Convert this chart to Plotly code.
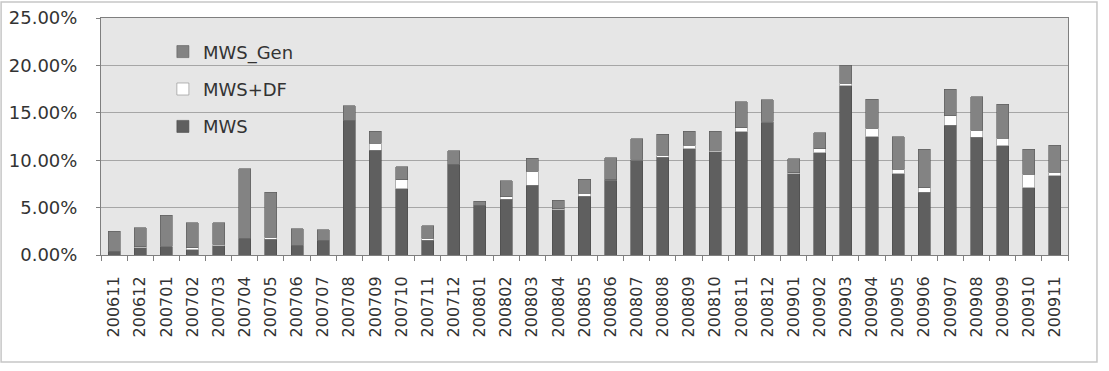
import plotly.graph_objects as go

months = ["200611","200612","200701","200702","200703","200704","200705","200706","200707",
          "200708","200709","200710","200711","200712","200801","200802","200803","200804",
          "200805","200806","200807","200808","200809","200810","200811","200812","200901",
          "200902","200903","200904","200905","200906","200907","200908","200909","200910","200911"]

mws = [0.40, 0.75, 0.85, 0.55, 1.00, 1.70, 1.65, 1.00, 1.55,
       14.20, 11.05, 7.00, 1.55, 9.55, 5.25, 5.90, 7.37, 4.75,
       6.20, 7.90, 9.97, 10.30, 11.20, 10.90, 13.00, 14.00, 8.55,
       10.80, 17.85, 12.45, 8.55, 6.60, 13.70, 12.40, 11.50, 7.10, 8.35]
mws_df = [0.00, 0.10, 0.05, 0.20, 0.12, 0.02, 0.20, 0.00, 0.00,
          0.00, 0.75, 0.95, 0.20, 0.00, 0.00, 0.25, 1.48, 0.15,
          0.30, 0.05, 0.15, 0.20, 0.40, 0.15, 0.40, 0.10, 0.12,
          0.40, 0.25, 0.90, 0.50, 0.50, 1.00, 0.75, 0.80, 1.40, 0.40]
mws_gen = [2.10, 2.00, 3.30, 2.65, 2.30, 7.40, 4.75, 1.75, 1.10,
           1.55, 1.25, 1.35, 1.35, 1.45, 0.40, 1.70, 1.37, 0.90,
           1.50, 2.30, 2.15, 2.25, 1.45, 2.00, 2.75, 2.30, 1.50,
           1.70, 1.90, 3.10, 3.40, 4.05, 2.80, 3.55, 3.60, 2.65, 2.85]

y_ticks = [0, 5, 10, 15, 20, 25]

FONT = "DejaVu Sans, Verdana, sans-serif"

fig = go.Figure()
fig.add_trace(go.Bar(x=months, y=mws, name="MWS", legendgroup="a", legendrank=3,
                     marker=dict(color="#5f5f5f", line=dict(color="#4a4a4a", width=0.6))))
fig.add_trace(go.Bar(x=months, y=mws_df, name="MWS+DF", legendgroup="b", legendrank=2,
                     marker=dict(color="#ffffff", line=dict(color="#8a8a8a", width=0.6))))
fig.add_trace(go.Bar(x=months, y=mws_gen, name="MWS_Gen", legendgroup="c", legendrank=1,
                     marker=dict(color="#838383", line=dict(color="#5a5a5a", width=0.6))))

fig.update_layout(
    width=1109, height=371,
    barmode="stack", bargap=0.54,
    margin=dict(l=101, r=41, t=18, b=116, autoexpand=False),
    paper_bgcolor="#ffffff", plot_bgcolor="#e6e6e6",
    font=dict(family=FONT, color="#333333"),
    showlegend=True,
    legend=dict(x=0.064, y=0.935, xanchor="left", yanchor="top",
                traceorder="grouped", tracegroupgap=11,
                bgcolor="rgba(0,0,0,0)", font=dict(size=18, color="#333333"),
                itemwidth=30),
    xaxis=dict(type="category", tickangle=-90, tickfont=dict(size=16, color="#333333"),
               showline=True, linecolor="#7f7f7f", mirror=True, automargin=False,
               ticks="outside", ticklen=5, tickcolor="#7f7f7f", tickson="boundaries",
               ticklabelstandoff=14, showgrid=False),
    yaxis=dict(range=[0, 25], tickvals=y_ticks, ticktext=[f"{v:.2f}%" for v in y_ticks],
               tickfont=dict(size=18, color="#333333"), automargin=False,
               showgrid=True, gridcolor="#a6a6a6", gridwidth=1,
               showline=True, linecolor="#7f7f7f", mirror=True,
               ticks="outside", ticklen=4, tickcolor="#7f7f7f", zeroline=False,
               ticklabelstandoff=15),
    shapes=[dict(type="rect", xref="paper", yref="paper",
                 x0=(1 - 101) / 968, x1=(1098 - 101) / 968,
                 y0=(255 - 362) / 237, y1=(255 - 2) / 237,
                 line=dict(color="#c6c6c6", width=1.5), fillcolor="rgba(0,0,0,0)", layer="below")],
)

fig.write_html("out.html")
